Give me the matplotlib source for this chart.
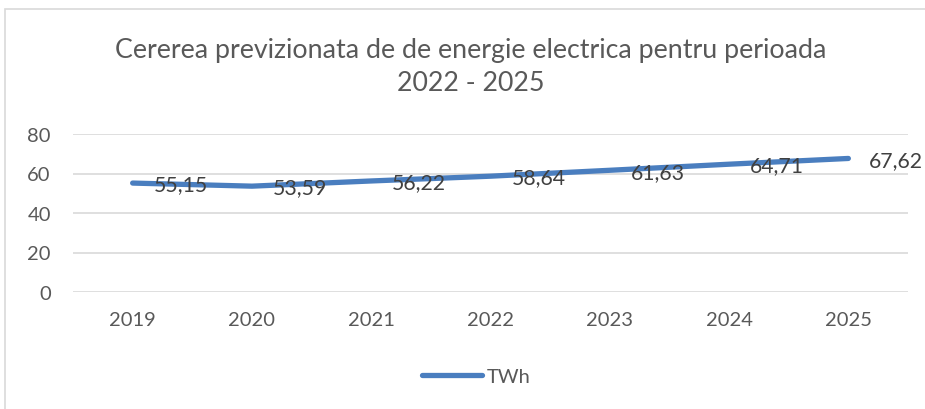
import matplotlib
matplotlib.use("Agg")
import matplotlib.pyplot as plt
from matplotlib.patches import Rectangle

years = ["2019", "2020", "2021", "2022", "2023", "2024", "2025"]
twh = [55.15, 53.59, 56.22, 58.64, 61.63, 64.71, 67.62]
series_name = "TWh"
title = "Cererea previzionata de de energie electrica pentru perioada\n2022 - 2025"
yticks = [0, 20, 40, 60, 80]

W, H = 925, 410
fig = plt.figure(figsize=(W / 100, H / 100), dpi=100)
plt.rcParams['font.family'] = ['Lato', 'DejaVu Sans']
txt = '#595959'
col = '#4A7EBF'

# outer chart frame
fig.patches.append(Rectangle((5 / W, -0.1), 1.2, 1 - 10 / H + 0.1, transform=fig.transFigure,
                             fill=False, edgecolor='#D9D9D9', linewidth=1.2))

ax = fig.add_axes([73 / W, 1 - 293 / H, (908 - 73) / W, (293 - 135) / H])
x = list(range(len(years)))
line, = ax.plot(x, twh, color=col, linewidth=3.8, solid_capstyle='round', label=series_name)
for xi, v in zip(x, twh):
    ax.annotate(f"{v:.2f}".replace('.', ','), (xi, v), xytext=(15, -1), textcoords='offset points',
                ha='left', va='center', fontsize=15.3, color='#404040')

ax.set_xlim(-0.5, len(years) - 0.5)
ax.set_ylim(0, 80)
ax.set_yticks(yticks)
ax.set_xticks(x)
ax.set_xticklabels(years)
ax.tick_params(axis='both', length=0, labelsize=14.5, colors=txt)
ax.tick_params(axis='y', pad=16)
ax.tick_params(axis='x', pad=14)
ax.grid(axis='y', color='#D9D9D9', linewidth=1.2)
ax.set_axisbelow(True)
for s in ax.spines.values():
    s.set_visible(False)

fig.text(0.5 + 8 / W, 1 - 67 / H, title, ha='center', va='center', fontsize=19.3,
         color=txt, linespacing=1.4)

fig.legend(handles=[line], loc='center', bbox_to_anchor=(476 / W, 1 - 377 / H), frameon=False,
           fontsize=14.5, labelcolor=txt, handlelength=3.0, handletextpad=0.2)

fig.savefig("out.png", dpi=100)
